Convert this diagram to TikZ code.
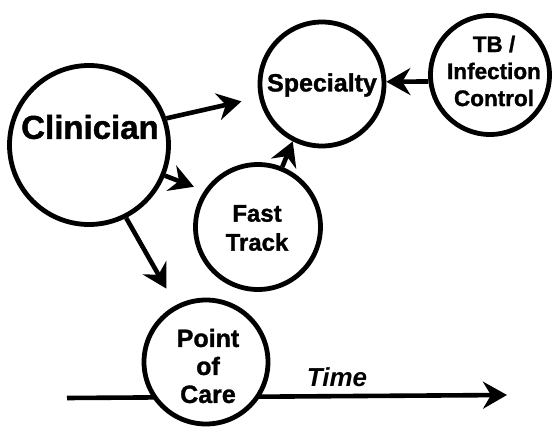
\documentclass[tikz,border=0pt]{standalone}
\usepackage{fontspec}
\setmainfont{Liberation Sans}[BoldFeatures={FakeBold=1.3}]
\usetikzlibrary{arrows.meta}
\begin{document}
\begin{tikzpicture}[x=1pt,y=-1pt,
  circ/.style={circle,draw,line width=4.8pt,fill=white,inner sep=0pt},
  lbl/.style={align=center,inner sep=0pt},
  arr/.style={line width=4.6pt,-{Stealth[length=24pt,width=27pt,inset=8pt]}}]
\useasboundingbox (0,0) rectangle (555,428);
% time axis
\coordinate (t0) at (67,398);
\coordinate (t1) at (507,395);
\draw[arr] (t0) -- (t1);
\node[lbl,font=\bfseries\itshape\fontsize{26}{26}\selectfont] (timetext) at (337,377) {Time};
% circles
\node[circ,minimum size=159pt] (clin) at (89,145) {};
\node[circ,minimum size=124pt] (spec) at (322,84) {};
\node[circ,minimum size=119pt] (tb) at (490,75) {};
\node[circ,minimum size=125pt] (fast) at (258,227) {};
\node[circ,minimum size=124pt] (poc) at (206,362) {};
% texts
\node[lbl,font=\bfseries\fontsize{33}{33}\selectfont] (clintext) at (90,127) {Clinician};
\node[lbl,font=\bfseries\fontsize{25}{28}\selectfont] (spectext) at (322,85) {Specialty};
\node[lbl,font=\bfseries\fontsize{22.5}{27}\selectfont] (tbtext) at (494,71) {TB /\\Infection\\Control};
\node[lbl,font=\bfseries\fontsize{24}{29}\selectfont] (fasttext) at (257,228) {Fast\\Track};
\node[lbl,font=\bfseries\fontsize{25}{28}\selectfont] (poctext) at (208,366) {Point\\of\\Care};
% connectors
\draw[arr,shorten >=18pt] (clin.19) -- (spec.192);
\draw[arr,shorten >=11pt] (clin.-22) -- (fast.146);
\draw[arr,shorten >=19pt] (clin.-63) -- (poc.118);
\draw[arr] (fast.68) -- (spec.243);
\draw[arr] (tb.186) -- (spec.2);
\end{tikzpicture}
\end{document}
